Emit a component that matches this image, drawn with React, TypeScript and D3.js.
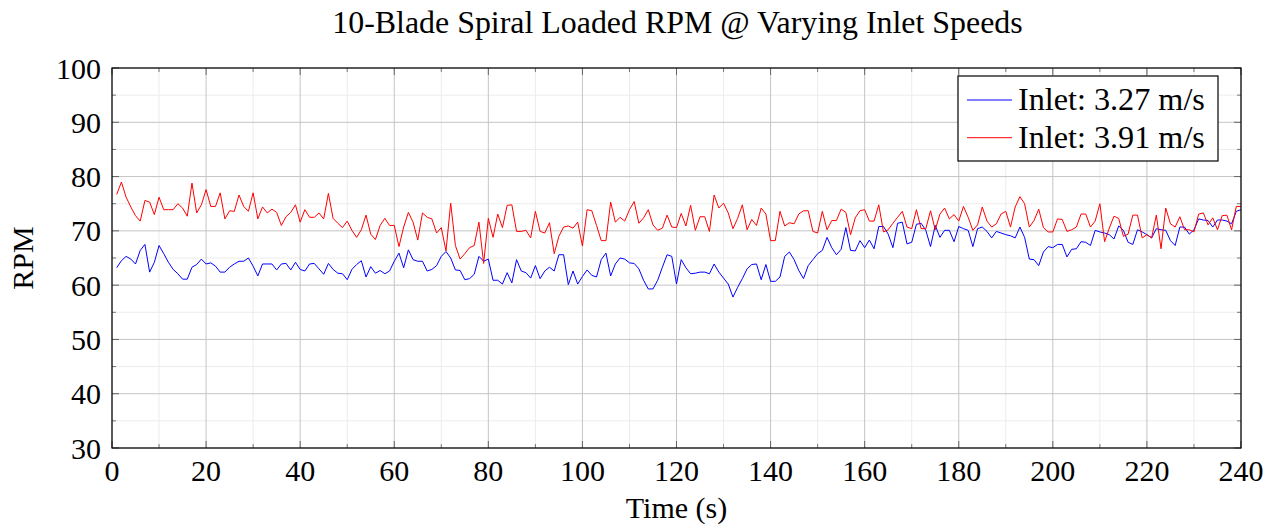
import React from "react";
import * as d3 from "d3";

const title = "10-Blade Spiral Loaded RPM @ Varying Inlet Speeds";
const xLabel = "Time (s)";
const yLabel = "RPM";
const seriesNames = ["Inlet: 3.27 m/s", "Inlet: 3.91 m/s"];
const seriesColors = ["#0000ff", "#ff0000"];

const xTicks = [0, 20, 40, 60, 80, 100, 120, 140, 160, 180, 200, 220, 240];
const xMinor = [10, 30, 50, 70, 90, 110, 130, 150, 170, 190, 210, 230];
const yTicks = [30, 40, 50, 60, 70, 80, 90, 100];
const yMinor = [35, 45, 55, 65, 75, 85, 95];

const times = d3.range(1, 241);

const inlet327 = [
  63.2, 64.5, 65.3, 64.8, 63.9, 66.4, 67.5, 62.4, 64.2, 67.3,
  65.8, 64.2, 62.9, 62.1, 61.1, 61.1, 63.3, 63.8, 64.8, 63.9,
  64.1, 63.5, 62.4, 62.4, 63.3, 63.9, 64.4, 64.4, 65.0, 63.5,
  61.7, 63.9, 63.9, 63.9, 62.8, 63.9, 64.0, 62.8, 64.2, 62.9,
  62.6, 63.9, 64.0, 63.0, 62.0, 64.0, 62.9, 62.2, 62.1, 61.0,
  62.9, 63.8, 64.5, 61.5, 63.4, 62.2, 62.7, 62.1, 62.6, 64.4,
  65.9, 63.2, 66.5, 64.7, 64.4, 64.4, 62.6, 62.9, 63.6, 65.3,
  66.2, 65.0, 62.8, 62.7, 61.0, 61.2, 62.0, 65.3, 64.4, 64.8,
  60.9, 60.9, 60.2, 62.3, 60.4, 64.7, 62.6, 62.3, 61.3, 63.6,
  61.2, 62.6, 63.3, 62.6, 65.6, 65.6, 60.1, 62.6, 60.2, 61.6,
  62.8, 61.8, 61.5, 64.7, 65.9, 61.7, 63.9, 65.0, 64.8, 64.1,
  64.0, 63.0, 60.9, 59.3, 59.3, 60.9, 63.3, 65.6, 65.3, 60.2,
  64.7, 63.2, 62.1, 62.2, 62.4, 62.4, 62.1, 63.9, 62.4, 61.3,
  60.2, 57.8, 59.6, 61.2, 63.0, 63.8, 63.9, 61.0, 63.8, 60.7,
  60.7, 61.5, 65.3, 66.1, 64.7, 62.7, 61.2, 63.6, 64.7, 65.8,
  66.4, 68.8, 66.9, 65.6, 66.6, 70.6, 66.4, 66.3, 68.2, 66.9,
  68.3, 66.7, 70.8, 70.8, 69.4, 66.9, 71.4, 71.6, 67.6, 67.9,
  71.2, 71.4, 70.1, 67.1, 71.0, 68.8, 70.1, 70.1, 68.0, 70.8,
  70.4, 70.1, 67.1, 70.4, 70.7, 69.9, 68.7, 69.9, 69.6, 69.3,
  69.1, 68.7, 70.7, 68.8, 64.8, 64.7, 63.6, 66.1, 67.1, 66.9,
  67.5, 67.5, 65.2, 66.6, 66.7, 68.0, 67.9, 67.3, 70.1, 69.8,
  69.6, 69.3, 68.5, 70.9, 70.1, 67.9, 67.5, 70.2, 69.8, 69.3,
  68.7, 70.4, 70.2, 70.1, 68.2, 67.3, 70.7, 70.7, 69.4, 70.2,
  72.2, 72.0, 71.9, 70.7, 72.0, 72.0, 71.8, 71.3, 73.6, 73.9,
];

const inlet391 = [
  76.7, 79.0, 76.2, 74.4, 72.8, 71.8, 75.6, 75.3, 73.0, 76.2,
  73.9, 73.9, 73.9, 75.0, 74.2, 72.7, 78.8, 73.3, 74.8, 77.6,
  74.5, 74.5, 77.0, 72.2, 73.7, 73.6, 76.6, 74.5, 73.6, 77.0,
  72.2, 74.4, 73.3, 74.0, 73.4, 71.0, 72.6, 73.4, 74.8, 71.6,
  73.9, 72.5, 72.5, 73.3, 72.2, 76.9, 72.3, 71.4, 70.6, 71.8,
  70.1, 68.8, 70.2, 72.9, 69.4, 68.4, 71.0, 72.3, 71.0, 71.0,
  67.1, 70.7, 73.4, 71.6, 68.3, 73.3, 72.5, 72.2, 69.6, 70.6,
  66.3, 75.1, 67.3, 64.8, 65.8, 66.9, 67.3, 71.6, 64.0, 72.3,
  68.8, 73.1, 70.6, 74.7, 74.8, 69.9, 69.9, 70.1, 68.7, 73.6,
  69.9, 69.6, 71.5, 65.8, 69.0, 70.7, 70.9, 70.5, 71.6, 67.2,
  73.9, 73.7, 71.0, 68.2, 68.2, 75.3, 71.6, 72.5, 71.8, 73.9,
  75.4, 71.4, 72.4, 73.9, 71.1, 70.1, 70.5, 72.9, 70.7, 70.6,
  73.2, 70.9, 74.7, 70.1, 72.6, 72.6, 69.9, 76.6, 74.2, 75.1,
  73.3, 70.4, 72.3, 74.8, 70.2, 72.1, 71.0, 74.2, 73.1, 68.2,
  68.2, 73.6, 70.9, 71.5, 71.3, 73.1, 73.7, 73.7, 69.9, 69.6,
  73.6, 70.2, 71.9, 71.9, 74.0, 73.4, 69.3, 72.4, 73.7, 73.9,
  71.8, 71.8, 74.8, 69.8, 70.2, 71.4, 72.5, 73.6, 70.7, 70.4,
  73.9, 70.4, 70.4, 73.7, 70.2, 73.1, 74.2, 72.2, 73.0, 71.8,
  74.5, 72.5, 70.1, 71.1, 74.4, 71.8, 70.7, 71.3, 73.1, 73.6,
  70.7, 74.4, 76.3, 75.0, 70.7, 71.9, 74.0, 70.6, 69.8, 69.8,
  72.2, 72.1, 69.9, 70.2, 70.7, 73.1, 73.1, 70.7, 71.8, 75.0,
  68.0, 70.5, 72.7, 72.3, 69.0, 69.4, 72.9, 72.9, 68.7, 69.3,
  68.7, 72.9, 66.7, 74.2, 71.3, 70.7, 72.6, 70.2, 70.2, 69.8,
  73.1, 73.3, 71.1, 72.4, 70.2, 72.8, 72.9, 70.2, 74.5, 74.5,
];

const W = 1271;
const H = 531;
const M = { left: 112, right: 1241, top: 68, bottom: 448 };
const FONT = "'Liberation Serif', 'Times New Roman', serif";

export default function App() {
  const x = d3.scaleLinear().domain([0, 240]).range([M.left, M.right]);
  const y = d3.scaleLinear().domain([30, 100]).range([M.bottom, M.top]);
  const line = d3
    .line<number>()
    .x((_, i) => x(times[i]))
    .y((d) => y(d));
  const series = [inlet327, inlet391];

  const legX = 958, legY = 76, legW = 260, legH = 85;

  return (
    <svg
      width={W}
      height={H}
      style={{ position: "absolute", left: 0, top: 0, display: "block", background: "#fff" }}
      fontFamily={FONT}
    >
      <rect x={0} y={0} width={W} height={H} fill="#fff" />
      {/* minor grid */}
      {xMinor.map((t) => (
        <line key={"xm" + t} x1={x(t)} x2={x(t)} y1={M.top} y2={M.bottom} stroke="#ececec" strokeWidth={1} />
      ))}
      {yMinor.map((t) => (
        <line key={"ym" + t} x1={M.left} x2={M.right} y1={y(t)} y2={y(t)} stroke="#ececec" strokeWidth={1} />
      ))}
      {/* major grid */}
      {xTicks.map((t) => (
        <line key={"xg" + t} x1={x(t)} x2={x(t)} y1={M.top} y2={M.bottom} stroke="#c4c4c4" strokeWidth={1} />
      ))}
      {yTicks.map((t) => (
        <line key={"yg" + t} x1={M.left} x2={M.right} y1={y(t)} y2={y(t)} stroke="#c4c4c4" strokeWidth={1} />
      ))}
      {/* tick marks */}
      {xTicks.map((t) => (
        <g key={"xt" + t} stroke="#666" strokeWidth={1}>
          <line x1={x(t)} x2={x(t)} y1={M.bottom} y2={M.bottom - 7} />
          <line x1={x(t)} x2={x(t)} y1={M.top} y2={M.top + 7} />
        </g>
      ))}
      {xMinor.map((t) => (
        <g key={"xmt" + t} stroke="#777" strokeWidth={1}>
          <line x1={x(t)} x2={x(t)} y1={M.bottom} y2={M.bottom - 4} />
          <line x1={x(t)} x2={x(t)} y1={M.top} y2={M.top + 4} />
        </g>
      ))}
      {yTicks.map((t) => (
        <g key={"yt" + t} stroke="#666" strokeWidth={1}>
          <line x1={M.left} x2={M.left + 7} y1={y(t)} y2={y(t)} />
          <line x1={M.right} x2={M.right - 7} y1={y(t)} y2={y(t)} />
        </g>
      ))}
      {yMinor.map((t) => (
        <g key={"ymt" + t} stroke="#777" strokeWidth={1}>
          <line x1={M.left} x2={M.left + 4} y1={y(t)} y2={y(t)} />
          <line x1={M.right} x2={M.right - 4} y1={y(t)} y2={y(t)} />
        </g>
      ))}
      {/* series */}
      {series.map((s, i) => (
        <path key={"s" + i} d={line(s) || ""} fill="none" stroke={seriesColors[i]} strokeWidth={1} strokeLinejoin="round" />
      ))}
      {/* frame */}
      <rect
        x={M.left}
        y={M.top}
        width={M.right - M.left}
        height={M.bottom - M.top}
        fill="none"
        stroke="#000"
        strokeWidth={1.2}
      />
      {/* tick labels */}
      {xTicks.map((t) => (
        <text key={"xl" + t} x={x(t)} y={480.7} textAnchor="middle" fontSize={30} fill="#000">
          {t}
        </text>
      ))}
      {yTicks.map((t) => (
        <text key={"yl" + t} x={101} y={y(t) + 10.5} textAnchor="end" fontSize={30} fill="#000">
          {t}
        </text>
      ))}
      {/* axis labels */}
      <text x={(M.left + M.right) / 2} y={518.3} textAnchor="middle" fontSize={30} fill="#000">
        {xLabel}
      </text>
      <text
        transform={`translate(33,${(M.top + M.bottom) / 2}) rotate(-90)`}
        textAnchor="middle"
        fontSize={30}
        fill="#000"
      >
        {yLabel}
      </text>
      {/* title */}
      <text x={677.5} y={33.3} textAnchor="middle" fontSize={31.9} fill="#000">
        {title}
      </text>
      {/* legend */}
      <rect x={legX} y={legY} width={legW} height={legH} fill="#fff" stroke="#000" strokeWidth={1.2} />
      {seriesNames.map((n, i) => (
        <g key={"lg" + i}>
          <line
            x1={967}
            x2={1012}
            y1={100 + i * 37.7}
            y2={100 + i * 37.7}
            stroke={seriesColors[i]}
            strokeWidth={1}
          />
          <text x={1018} y={110 + i * 37.7} fontSize={32.2} fill="#000">
            {n}
          </text>
        </g>
      ))}
    </svg>
  );
}
